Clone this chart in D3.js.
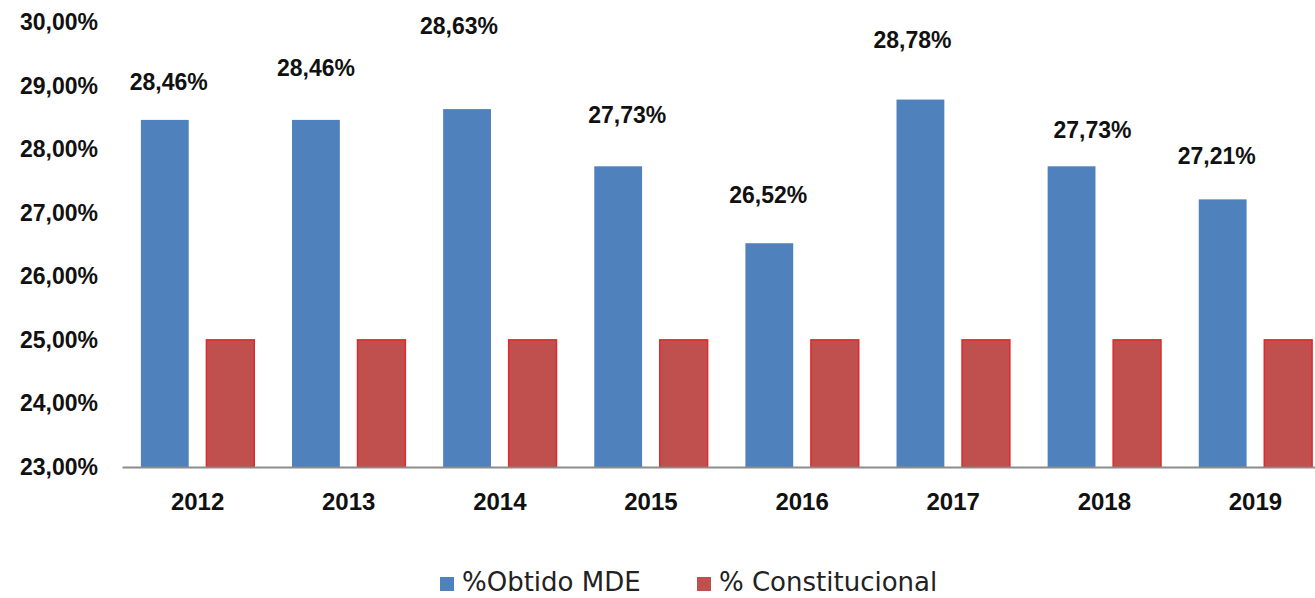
<!DOCTYPE html>
<html>
<head>
<meta charset="utf-8">
<script src="https://cdn.jsdelivr.net/npm/d3@7"></script>
<style>
    body { margin: 0; background: #fff; }
    text { font-family: "Liberation Sans", Arial, sans-serif; }
</style>
</head>
<body>
<div id="chart"></div>
<script>
"use strict";

// chart values
const years = ["2012", "2013", "2014", "2015", "2016", "2017", "2018", "2019"];
const obtidoMDE = [28.46, 28.46, 28.63, 27.73, 26.52, 28.78, 27.73, 27.21];
const constitucional = [25, 25, 25, 25, 25, 25, 25, 25];
const yTicks = [23, 24, 25, 26, 27, 28, 29, 30];
const seriesNames = ["%Obtido MDE", "% Constitucional"];

// hand placed data labels (pixel nudges from the bar top centre)
const labelDx = [4, 0, -8, 9, -1, -8, 21, -6];
const labelDy = [-30, -44, -75, -43, -40, -52, -28, -35];

const msm = {
    width: 1315,
    height: 598,
    left: 122,
    right: 1331,
    top: 22,
    bottom: 467
}

const colors = {
    blue: "#4F81BD",
    red: "#C0504D",
    redStroke: "#E2282C",
    axis: "#8C8C8C",
    text: "#111111"
}

const fmt = v => v.toFixed(2).replace(".", ",") + "%";

let svg = d3.select("#chart")
    .append("svg")
    .attr("width", msm.width)
    .attr("height", msm.height);

let xScale = d3.scaleBand()
    .domain(years)
    .range([msm.left, msm.right])
    .paddingInner(0.25)
    .paddingOuter(0.125);

let x1 = d3.scaleBand()
    .domain([0, 1])
    .range([0, xScale.bandwidth()])
    .paddingInner(0.27);

let yScale = d3.scaleLinear()
    .domain([23, 30])
    .range([msm.bottom, msm.top]);

// y tick labels (no axis line)
svg.append("g")
    .selectAll("text")
    .data(yTicks)
    .enter()
    .append("text")
    .attr("x", 98)
    .attr("y", d => yScale(d))
    .attr("dy", "0.35em")
    .attr("text-anchor", "end")
    .style("font-size", "23px")
    .style("font-weight", "bold")
    .attr("fill", colors.text)
    .text(d => fmt(d));

// blue bars
svg.append("g")
    .selectAll("rect")
    .data(obtidoMDE)
    .enter()
    .append("rect")
    .attr("x", (d, i) => xScale(years[i]) + x1(0))
    .attr("y", d => yScale(d))
    .attr("width", x1.bandwidth())
    .attr("height", d => yScale(23) - yScale(d))
    .attr("fill", colors.blue);

// red bars
svg.append("g")
    .selectAll("rect")
    .data(constitucional)
    .enter()
    .append("rect")
    .attr("x", (d, i) => xScale(years[i]) + x1(1))
    .attr("y", d => yScale(d))
    .attr("width", x1.bandwidth())
    .attr("height", d => yScale(23) - yScale(d))
    .attr("fill", colors.red)
    .attr("stroke", colors.redStroke)
    .attr("stroke-width", 1.5);

// x axis
let xAxis = d3.axisBottom(xScale).tickSize(0).tickPadding(26);
let gx = svg.append("g")
    .attr("transform", "translate(0," + msm.bottom + ")")
    .call(xAxis);
gx.select(".domain")
    .attr("stroke", colors.axis)
    .attr("stroke-width", 2);
gx.selectAll("text")
    .style("font-family", "'Liberation Sans', Arial, sans-serif")
    .style("font-size", "24px")
    .style("font-weight", "bold")
    .attr("fill", colors.text);

// data labels
svg.append("g")
    .selectAll("text")
    .data(obtidoMDE)
    .enter()
    .append("text")
    .attr("x", (d, i) => xScale(years[i]) + x1(0) + x1.bandwidth() / 2 + labelDx[i])
    .attr("y", (d, i) => yScale(d) + labelDy[i])
    .attr("text-anchor", "middle")
    .style("font-size", "23px")
    .style("font-weight", "bold")
    .attr("fill", colors.text)
    .text(d => fmt(d));

// legend
let legendX = [440, 697];
let legendColors = [colors.blue, colors.red];
let legend = svg.append("g");
legend.selectAll("rect")
    .data(seriesNames)
    .enter()
    .append("rect")
    .attr("x", (d, i) => legendX[i])
    .attr("y", 577)
    .attr("width", 14)
    .attr("height", 14)
    .attr("fill", (d, i) => legendColors[i]);
legend.selectAll("text")
    .data(seriesNames)
    .enter()
    .append("text")
    .attr("x", (d, i) => legendX[i] + 22)
    .attr("y", 591)
    .style("font-family", "'DejaVu Sans', Verdana, sans-serif")
    .style("font-size", "26px")
    .attr("fill", "#222")
    .text(d => d);
</script>
</body>
</html>
